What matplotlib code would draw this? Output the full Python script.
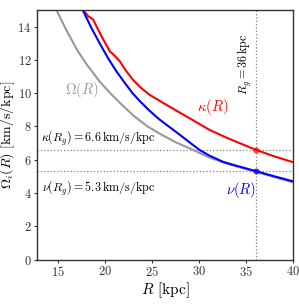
import matplotlib
matplotlib.use("Agg")
import matplotlib.pyplot as plt

plt.rcParams['mathtext.fontset'] = 'cm'
plt.rcParams['font.family'] = 'serif'
plt.rcParams['font.serif'] = ['cmr10', 'DejaVu Serif']
plt.rcParams['axes.formatter.use_mathtext'] = True

# Data
R_omega = [14.8, 15.9, 17.0, 18.0, 19.4, 20.5, 21.5, 23.0, 24.5, 26.0, 27.5, 29.3,
           31.0, 33.0, 36.0, 38.0, 40.0]
omega = [15.0, 13.75, 12.6, 11.75, 10.7, 10.02, 9.45, 8.65, 8.0, 7.5, 7.05, 6.6,
         6.15, 5.75, 5.28, 4.95, 4.63]

R_nu = [17.6, 18.5, 19.4, 20.3, 21.2, 22.1, 22.9, 23.8, 24.7, 25.7, 26.8, 28.0,
        29.0, 30.0, 31.0, 32.5, 34.0, 36.0, 38.0, 40.0]
nu = [15.0, 13.95, 13.0, 12.1, 11.3, 10.6, 10.0, 9.45, 8.95, 8.45, 7.98, 7.47,
      7.03, 6.6, 6.27, 5.88, 5.63, 5.32, 5.0, 4.7]

R_kappa = [17.65, 18.18, 18.7, 19.6, 20.48, 21.0, 21.54, 22.2, 22.94, 23.8, 24.7,
           26.5, 28.95, 31.07, 33.0, 36.0, 38.0, 40.0]
kappa = [15.0, 14.63, 14.43, 13.42, 12.52, 12.25, 11.92, 11.35, 10.81, 10.32, 9.91,
         9.3, 8.5, 7.8, 7.3, 6.6, 6.2, 5.85]

R_g = 36.0
kappa_g = 6.6
nu_g = 5.3

fig = plt.figure(figsize=(2.99, 3.05), dpi=100)
ax = fig.add_axes([0.1227, 0.149, 0.981 - 0.1227, 0.967 - 0.149])

ax.axhline(kappa_g, color='gray', ls=':', lw=0.9)
ax.axhline(nu_g, color='gray', ls=':', lw=0.9)
ax.axvline(R_g, color='gray', ls=':', lw=0.9)

ax.plot(R_omega, omega, color='#999999', lw=1.5)
ax.plot(R_kappa, kappa, color='#ff0000', lw=1.5)
ax.plot(R_nu, nu, color='#0000ff', lw=1.5)

ax.plot([R_g], [kappa_g], 'o', color='#ff0000', ms=3.5, alpha=0.6)
ax.plot([R_g], [nu_g], 'o', color='#0000ff', ms=3.5, alpha=0.6)

ax.text(17.5, 10.2, r'$\Omega(R)$', color='#999999', fontsize=10.5, ha='center', va='center')
ax.text(31.4, 9.2, r'$\kappa(R)$', color='#ff0000', fontsize=10.5, ha='center', va='center')
ax.text(34.45, 4.2, r'$\nu(R)$', color='#0000ff', fontsize=10.5, ha='center', va='center')
ax.text(35.8, 11.75, r'$R_g = 36\,\mathrm{kpc}$', rotation=90, fontsize=8.7,
        ha='right', va='center')
ax.text(13.2, 7.3, r'$\kappa(R_g) = 6.6\,\mathrm{km/s/kpc}$', fontsize=8.7,
        ha='left', va='center')
ax.text(13.3, 4.3, r'$\nu(R_g) = 5.3\,\mathrm{km/s/kpc}$', fontsize=8.7,
        ha='left', va='center')

ax.set_xlim(12.7, 40)
ax.set_ylim(0, 15)
ax.set_xticks([15, 20, 25, 30, 35, 40])
ax.set_yticks([0, 2, 4, 6, 8, 10, 12, 14])
ax.tick_params(labelsize=9, length=2.5, width=0.8, pad=1.2, colors='#333333')
for sp in ax.spines.values():
    sp.set_color('#333333')
    sp.set_linewidth(1.0)

ax.set_xlabel(r'$R$ [kpc]', fontsize=11, labelpad=1)
ax.set_ylabel(r'$\Omega_i(R)$ [km/s/kpc]', fontsize=10, labelpad=0)

fig.savefig('out.png', dpi=100)
